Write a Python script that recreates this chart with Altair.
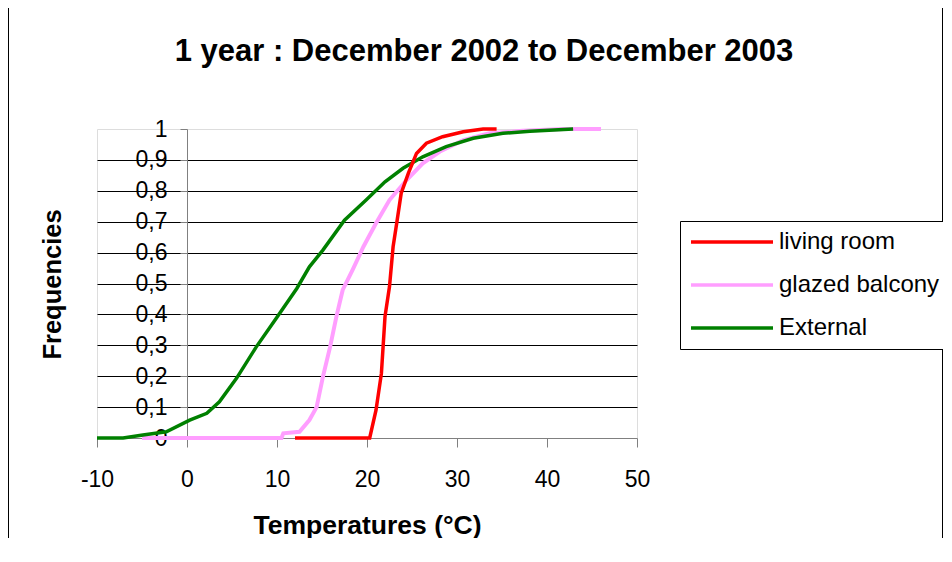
import altair as alt
import pandas as pd

# ---- data ----
series_names = ["living room", "glazed balcony", "External"]
series_colors = ["#FF0000", "#FF9EFF", "#008000"]

living_temp = [12.0, 20.3, 21.0, 21.6, 22.0, 22.5, 22.9, 23.3, 23.8, 24.6, 25.5, 26.6, 28.4, 30.7, 32.9, 34.4]
living_freq = [0, 0, 0.09, 0.209, 0.393, 0.49, 0.619, 0.695, 0.792, 0.857, 0.921, 0.954, 0.975, 0.991, 1.0, 1.0]

balcony_temp = [-5.0, 10.5, 10.7, 12.5, 13.6, 14.4, 15.1, 15.9, 16.6, 17.3, 18.4, 19.6, 21.0, 22.5, 24.4,
                26.2, 28.1, 30.7, 33.6, 37.3, 41.8, 46.0]
balcony_freq = [0, 0, 0.015, 0.02, 0.058, 0.10, 0.198, 0.295, 0.393, 0.479, 0.544, 0.619, 0.695, 0.77, 0.835,
                0.889, 0.927, 0.964, 0.986, 0.994, 1.0, 1.0]

external_temp = [-10, -7.1, -4.9, -2.3, 0.3, 2.2, 3.6, 5.5, 7.7, 9.9, 12.2, 13.6, 15.1, 17.5, 19.9, 22.0,
                 24.0, 26.2, 28.8, 31.8, 35.1, 38.1, 42.9]
external_freq = [0, 0, 0.01, 0.02, 0.058, 0.08, 0.117, 0.193, 0.295, 0.387, 0.484, 0.554, 0.608, 0.705, 0.77,
                 0.829, 0.873, 0.91, 0.943, 0.97, 0.986, 0.993, 1.0]

x_ticks = [-10, 0, 10, 20, 30, 40, 50]
y_ticks = [0, 0.1, 0.2, 0.3, 0.4, 0.5, 0.6, 0.7, 0.8, 0.9, 1.0]

rows = []
for name, temps, freqs in [("living room", living_temp, living_freq),
                           ("glazed balcony", balcony_temp, balcony_freq),
                           ("External", external_temp, external_freq)]:
    for i, (t, f) in enumerate(zip(temps, freqs)):
        rows.append({"series": name, "temp": t, "freq": f, "idx": i})
df = pd.DataFrame(rows)

FONT = "Liberation Sans"
W, H = 540, 309

x_enc = alt.X("temp:Q", scale=alt.Scale(domain=[-10, 50], nice=False),
              axis=alt.Axis(values=x_ticks, grid=False, domainColor="#808080", tickColor="#808080",
                            tickSize=9, labelFontSize=23, labelFont=FONT, labelColor="black",
                            labelPadding=21, labelFlush=False, labelOverlap=False,
                            labelExpr="datum.value < 0 ? '-' + abs(datum.value) : '' + datum.value",
                            title="Temperatures (°C)", titleFont=FONT,
                            titleFontSize=26.5, titleFontWeight="bold", titleColor="black",
                            titleY=87, titleBaseline="middle"))
y_enc = alt.Y("freq:Q", scale=alt.Scale(domain=[0, 1], nice=False),
              axis=alt.Axis(values=y_ticks, offset=-90, grid=True, gridColor="black", gridWidth=1.2,
                            gridOpacity=alt.condition("datum.value == 0 || datum.value == 1",
                                                      alt.value(0), alt.value(1)),
                            domainColor="#808080", tickColor="#808080", tickSize=7,
                            labelFontSize=23, labelFont=FONT, labelColor="black", labelPadding=13,
                            labelFlush=False, labelOverlap=False,
                            labelExpr="datum.value == 0 ? '0' : datum.value == 1 ? '1' : replace(format(datum.value, '.1f'), '.', ',')",
                            title="Frequencies", titleFont=FONT, titleFontSize=25.5,
                            titleFontWeight="bold", titleColor="black",
                            titleX=-135, titleY=155, titleAngle=-90, titleBaseline="middle"))
color_enc = alt.Color("series:N", scale=alt.Scale(domain=series_names, range=series_colors),
                      legend=alt.Legend(title=None, orient="none", legendX=583, legendY=92,
                                        symbolType="M-1,0L7.2,0", symbolSize=400, symbolStrokeWidth=3.5,
                                        labelFontSize=24, labelFont=FONT, labelColor="black",
                                        labelOffset=66, labelLimit=400, rowPadding=19, padding=9,
                                        strokeColor="black", fillColor="white"))

base = alt.Chart(df)
layers = []
for name in ["glazed balcony", "External", "living room"]:
    sw = 4 if name == "glazed balcony" else 3.5
    layers.append(base.transform_filter(alt.datum.series == name)
                  .mark_line(strokeWidth=sw)
                  .encode(x=x_enc, y=y_enc, color=color_enc, order="idx:Q"))

frame = alt.Chart(pd.DataFrame({"f": [0]})).mark_rect(filled=False, stroke="black", strokeWidth=1).encode(
    x=alt.value(-88.5), x2=alt.value(845.5), y=alt.value(-121.5), y2=alt.value(460))

chart = alt.layer(frame, *layers).properties(
    width=W, height=H,
    autosize=alt.AutoSizeParams(type="none"),
    padding={"left": 89, "top": 121, "right": 306, "bottom": 100},
    title=alt.TitleParams("1 year : December 2002 to December 2003", font=FONT, fontSize=31,
                          fontWeight="bold", color="black", anchor="middle", dx=117,
                          baseline="alphabetic", offset=-85),
).configure_view(fill="#FFFFCC", stroke="transparent").configure(background="white")

chart.save("out.html", embed_options={"renderer": "svg", "actions": False})
